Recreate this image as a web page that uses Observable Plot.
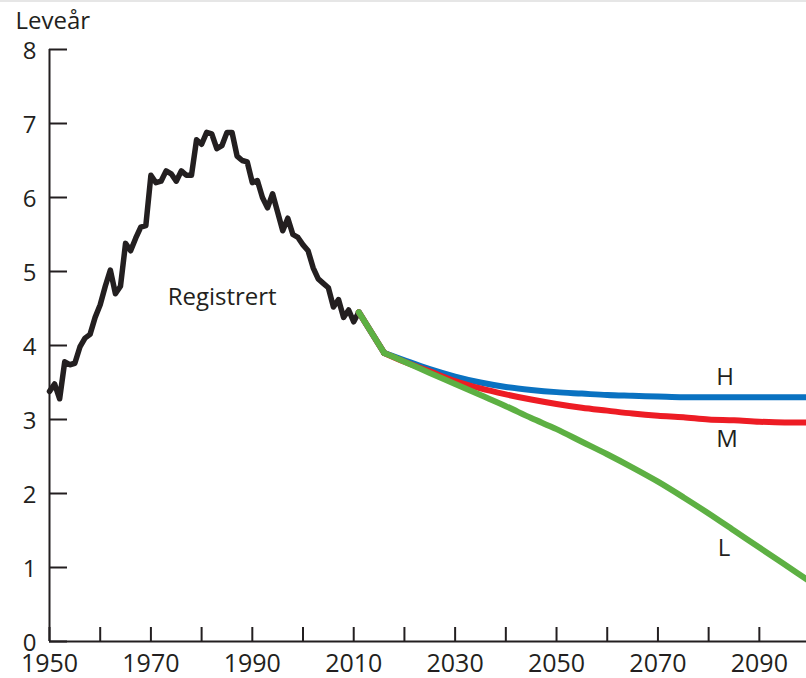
<!DOCTYPE html>
<html><head><meta charset="utf-8">
<script src="https://cdn.jsdelivr.net/npm/d3@7"></script>
<script src="https://cdn.jsdelivr.net/npm/@observablehq/plot@0.6"></script>
<style>
html,body{margin:0;padding:0;background:#fff;overflow:hidden;}
#topline{position:absolute;left:0;top:0;width:806px;height:2px;background:#e6e6e6;}
</style></head><body>
<div id="topline"></div>
<div id="chart"></div>
<script>
// Registered (historical) values
const registeredYears = [1950,1951,1952,1953,1954,1955,1956,1957,1958,1959,1960,1961,1962,1963,1964,1965,1966,1967,1968,1969,
  1970,1971,1972,1973,1974,1975,1976,1977,1978,1979,1980,1981,1982,1983,1984,1985,1986,1987,1988,1989,
  1990,1991,1992,1993,1994,1995,1996,1997,1998,1999,2000,2001,2002,2003,2004,2005,2006,2007,2008,2009,2010,2011];
const registeredValues = [3.38,3.48,3.28,3.78,3.74,3.76,3.98,4.10,4.15,4.38,4.55,4.80,5.02,4.70,4.80,5.38,5.28,5.45,5.60,5.62,
  6.30,6.20,6.22,6.36,6.32,6.22,6.36,6.30,6.30,6.78,6.72,6.88,6.86,6.66,6.70,6.88,6.88,6.56,6.50,6.48,
  6.20,6.23,6.00,5.86,6.05,5.80,5.55,5.72,5.50,5.46,5.36,5.28,5.05,4.90,4.84,4.78,4.52,4.62,4.38,4.48,4.32,4.45];

// Projections
const projYears  = [2011,2016,2020,2025,2030,2035,2040,2045,2050,2055,2060,2065,2070,2075,2080,2085,2090,2095,2100];
const highValues = [4.45,3.90,3.80,3.68,3.58,3.50,3.44,3.40,3.37,3.35,3.33,3.32,3.31,3.30,3.30,3.30,3.30,3.30,3.30];
const midValues  = [4.45,3.90,3.78,3.65,3.52,3.42,3.34,3.27,3.21,3.16,3.12,3.08,3.05,3.03,3.00,2.99,2.97,2.96,2.96];
const lowValues  = [4.45,3.90,3.78,3.63,3.48,3.33,3.18,3.02,2.87,2.70,2.53,2.35,2.16,1.95,1.73,1.50,1.27,1.04,0.81];
const kinkYear = 2016;

// Axis ticks
const yTicks = [0,1,2,3,4,5,6,7,8];
const xTickMarks = [1950,1960,1970,1980,1990,2000,2010,2020,2030,2040,2050,2060,2070,2080,2090];
const xTickLabels = [1950,1970,1990,2010,2030,2050,2070,2090];

// Annotations
const labelTexts  = ["Registrert","H","M","L"];
const labelYears  = [1973.3,2081.5,2081.5,2081.8];
const labelValues = [4.65,3.57,2.73,1.26];
const yTitle = "Leveår";

const toRows = (xs, ys) => xs.map((x, i) => ({x, y: ys[i]}));
const registered = toRows(registeredYears, registeredValues);
const high = toRows(projYears, highValues);
const mid = toRows(projYears, midValues);
const low = toRows(projYears, lowValues);
const labels = labelTexts.map((t, i) => ({t, x: labelYears[i], y: labelValues[i]}));

const ink = "#231f20";
const series = [[high, "#0a72c1"], [mid, "#ed1c24"], [low, "#5db043"]];
const projMarks = series.flatMap(([rows, color]) => [
  Plot.line(rows.filter(d => d.x <= kinkYear), {x: "x", y: "y", stroke: color, strokeWidth: 6, strokeLinecap: "round"}),
  Plot.line(rows.filter(d => d.x >= kinkYear), {x: "x", y: "y", stroke: color, strokeWidth: 6, curve: "monotone-x", clip: true})
]);

const chart = Plot.plot({
  width: 806, height: 678,
  marginTop: 49, marginBottom: 37, marginLeft: 49, marginRight: 0,
  style: {fontFamily: "'Open Sans', sans-serif", background: "#fff", color: ink},
  x: {domain: [1950, 2099.3]},
  y: {domain: [0, 8]},
  marks: [
    Plot.axisY(yTicks, {tickSize: -18, tickFormat: () => "", strokeWidth: 2, stroke: ink, label: null}),
    Plot.axisY(yTicks, {tickSize: 0, tickPadding: 13, fontSize: 24, fill: ink, tickFormat: "d", dy: 2, label: null}),
    Plot.axisX(xTickMarks, {tickSize: -14, tickFormat: () => "", strokeWidth: 2, stroke: ink, label: null}),
    Plot.axisX(xTickLabels, {tickSize: 0, tickPadding: 13, fontSize: 25, fill: ink, tickFormat: "d", label: null}),
    Plot.ruleX([1950], {stroke: ink, strokeWidth: 2}),
    Plot.ruleY([0], {stroke: ink, strokeWidth: 2}),
    Plot.line(registered, {x: "x", y: "y", stroke: ink, strokeWidth: 5.5, strokeLinejoin: "round", strokeLinecap: "round"}),
    ...projMarks,
    Plot.text(labels, {x: "x", y: "y", text: "t", textAnchor: "start", lineAnchor: "middle", fontSize: 24, fill: ink}),
    Plot.text([yTitle], {text: d => d, frameAnchor: "top-left", textAnchor: "start", lineAnchor: "middle", dx: -34, dy: -28, fontSize: 24, fill: ink})
  ]
});
document.getElementById("chart").appendChild(chart);
</script>
</body></html>
